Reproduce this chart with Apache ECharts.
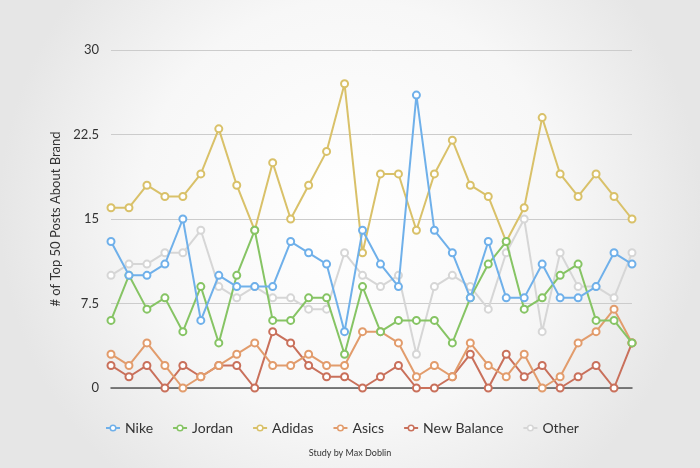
<!DOCTYPE html>
<html>
<head>
<meta charset="utf-8">
<script src="https://cdn.jsdelivr.net/npm/echarts@6/dist/echarts.min.js"></script>
<style>html,body{margin:0;padding:0;}#c{width:700px;height:468px;}</style>
</head>
<body>
<div id="c"></div>
<script>
var categories = [];
for (var i = 1; i <= 30; i++) categories.push(String(i));
var nike       = [13,10,10,11,15,6,10,9,9,9,13,12,11,5,14,11,9,26,14,12,8,13,8,8,11,8,8,9,12,11];
var jordan     = [6,10,7,8,5,9,4,10,14,6,6,8,8,3,9,5,6,6,6,4,8,11,13,7,8,10,11,6,6,4];
var adidas     = [16,16,18,17,17,19,23,18,14,20,15,18,21,27,12,19,19,14,19,22,18,17,13,16,24,19,17,19,17,15];
var asics      = [3,2,4,2,0,1,2,3,4,2,2,3,2,2,5,5,4,1,2,1,4,2,1,3,0,1,4,5,7,4];
var newBalance = [2,1,2,0,2,1,2,2,0,5,4,2,1,1,0,1,2,0,0,1,3,0,3,1,2,0,1,2,0,4];
var other      = [10,11,11,12,12,14,9,8,9,8,8,7,7,12,10,9,10,3,9,10,9,7,12,15,5,12,9,9,8,12];
var yTicks = [0, 7.5, 15, 22.5, 30];

var seriesDefs = [
  {name:'Nike', data:nike, color:'#6fb0ea'},
  {name:'Jordan', data:jordan, color:'#86c464'},
  {name:'Adidas', data:adidas, color:'#d9c169'},
  {name:'Asics', data:asics, color:'#e29c6c'},
  {name:'New Balance', data:newBalance, color:'#c9705b'},
  {name:'Other', data:other, color:'#d6d6d6'}
];
var order = ['Other','New Balance','Asics','Adidas','Jordan','Nike'];
var series = seriesDefs.map(function(s){
  return {
    name: s.name, type: 'line', data: s.data, color: s.color,
    symbol: 'circle', symbolSize: 7, showSymbol: true,
    z: 2 + order.indexOf(s.name),
    lineStyle: {color: s.color, width: 2},
    itemStyle: {color: '#ffffff', borderColor: s.color, borderWidth: 2},
    emphasis: {disabled: true},
    animation: false
  };
});

var chart = echarts.init(document.getElementById('c'));
chart.setOption({
  backgroundColor: {
    type: 'radial', x: 0.5, y: 0.45, r: 0.75,
    colorStops: [{offset: 0, color: '#ffffff'}, {offset: 0.6, color: '#f7f7f7'}, {offset: 1, color: '#e6e6e6'}]
  },
  animation: false,
  textStyle: {fontFamily: 'Lato, "Open Sans", sans-serif'},
  grid: {left: 111, right: 68, top: 50, bottom: 80, containLabel: false},
  xAxis: {
    type: 'category', data: categories, boundaryGap: false,
    axisLabel: {show: false}, axisTick: {show: false},
    axisLine: {show: true, lineStyle: {color: '#555555', width: 1.5}},
    splitLine: {show: false}
  },
  yAxis: {
    type: 'value', min: yTicks[0], max: yTicks[yTicks.length - 1], interval: 7.5,
    name: '# of Top 50 Posts About Brand', nameLocation: 'middle', nameGap: 44,
    nameTextStyle: {color: '#333333', fontSize: 13},
    axisLabel: {color: '#333333', fontSize: 13, margin: 12},
    axisTick: {show: false}, axisLine: {show: false},
    splitLine: {lineStyle: {color: '#cccccc', width: 1}}
  },
  legend: {
    bottom: 28, left: 100,
    data: seriesDefs.map(function(s){
      return {name: s.name, itemStyle: {color: '#ffffff', borderColor: s.color, borderWidth: 1.5}};
    }),
    itemWidth: 14, itemHeight: 7, itemGap: 19,
    textStyle: {color: '#333333', fontSize: 14}
  },
  graphic: [{
    type: 'text', left: 'center', top: 449,
    style: {text: 'Study by Max Doblin', fill: '#333333', fontSize: 9, fontFamily: 'Lato, "Open Sans", sans-serif'}
  }],
  series: series
});
</script>
</body>
</html>
